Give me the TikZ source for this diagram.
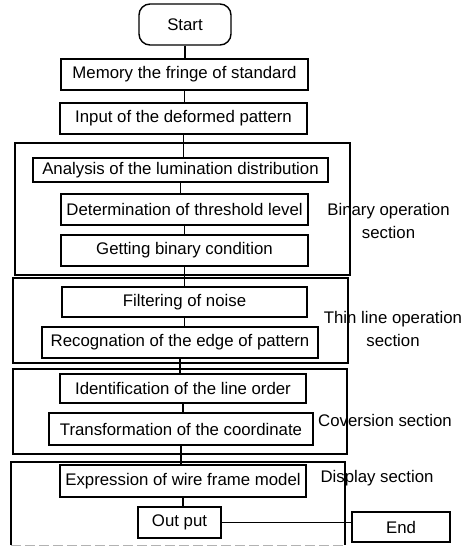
\documentclass[tikz,border=0pt]{standalone}
\usepackage{fontspec}
\setmainfont{Liberation Sans}
\begin{document}
\begin{tikzpicture}[x=1pt,y=-1pt,
  every node/.style={font=\fontsize{16.8}{23}\selectfont},
  stepbox/.style={draw,line width=1.4pt,inner sep=0pt,minimum width=#1},
  startbox/.style={draw,line width=1.4pt,rounded corners=11pt,inner sep=0pt},
  sectionframe/.style={draw,line width=1.2pt},
  sectionlabel/.style={align=center,inner sep=0pt},
  link/.style={line width=1.2pt}]
\useasboundingbox (0,0) rectangle (468,547);

% section frames
\draw[sectionframe] (15,143) rectangle (350,275);
\draw[sectionframe] (13,278) rectangle (348,363);
\draw[sectionframe] (13,369) rectangle (347,454);
\draw[sectionframe] (11,545) -- (11,462) -- (345,462) -- (345,545);
\draw[line width=0.6pt,gray!60,dash pattern=on 10pt off 4pt] (11,545) -- (345,545);

% process steps
\node[startbox,minimum width=92pt,minimum height=41pt] (start) at (185,24.5) {Start};
\node[stepbox=247pt,minimum height=31pt] (memory) at (184.5,74.5) {Memory the fringe of standard};
\node[stepbox=247pt,minimum height=31pt] (input) at (183.5,118.5) {Input of the deformed pattern};
\node[stepbox=295pt,minimum height=24pt] (analysis) at (180.5,170) {Analysis of the lumination distribution};
\node[stepbox=247pt,minimum height=31pt] (threshold) at (184.5,209.5) {Determination of threshold level};
\node[stepbox=247pt,minimum height=31pt] (binary) at (184.5,250.5) {Getting binary condition};
\node[stepbox=245pt,minimum height=30pt] (filter) at (184.5,302) {Filtering of noise};
\node[stepbox=276pt,minimum height=31pt] (edge) at (180,342.5) {Recognation of the edge of pattern};
\node[stepbox=246pt,minimum height=29pt] (order) at (183,388.5) {Identification of the line order};
\node[stepbox=264pt,minimum height=32pt] (coord) at (181,429) {Transformation of the coordinate};
\node[stepbox=246pt,minimum height=32pt] (wire) at (183,481) {Expression of wire frame model};
\node[stepbox=83pt,minimum height=31pt,text depth=4pt,minimum height=31pt] (output) at (179.5,522.5) {Out put};
\node[stepbox=98pt,minimum height=30pt] (finish) at (401,527) {End};

% section labels
\node[sectionlabel] (lbin) at (388.5,220.5) {Binary operation\\section};
\node[sectionlabel] (lthin) at (393,328.5) {Thin line operation\\section};
\node[sectionlabel] (lconv) at (385,420) {Coversion section};
\node[sectionlabel] (ldisp) at (377,478) {Display section};

% connectors
\foreach \a/\b in {start/memory,memory/input,input/analysis,analysis/threshold,
  threshold/binary,binary/filter,filter/edge,edge/order,order/coord,coord/wire,wire/output}
  \draw[link] (\a.south) -- (\a.south |- \b.north);
\draw[link] (output.east) -- (output.east -| finish.west);
\end{tikzpicture}
\end{document}
